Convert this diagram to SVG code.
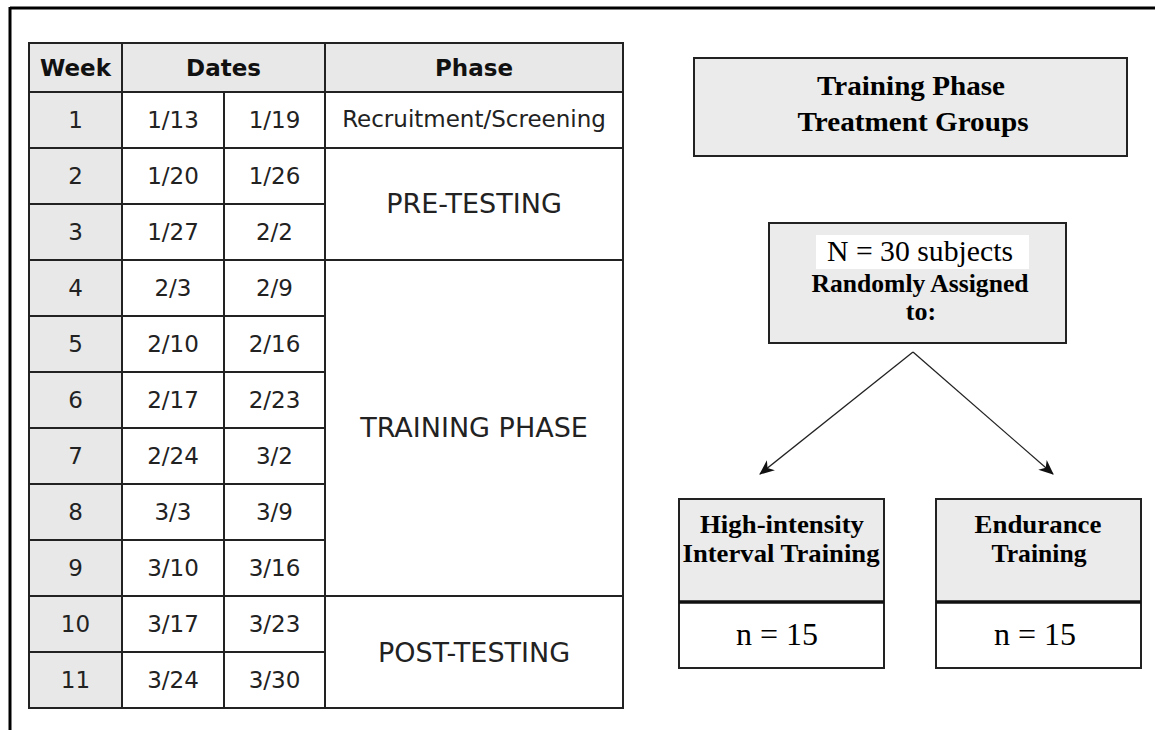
<svg xmlns="http://www.w3.org/2000/svg" width="1155" height="730" viewBox="0 0 1155 730">
<style>
.frame{stroke:#000;stroke-width:3;fill:none}
.grid{stroke:#222;stroke-width:2;fill:none}
.shade{fill:#e8e8e8}
.t{font-family:"DejaVu Sans",Verdana,sans-serif;font-size:23px;fill:#222;text-anchor:middle}
.th{font-family:"DejaVu Sans",Verdana,sans-serif;font-size:23px;font-weight:bold;fill:#111;text-anchor:middle}
.tp{font-family:"DejaVu Sans",Verdana,sans-serif;font-size:27px;fill:#222;text-anchor:middle}
.box{fill:#ebebeb;stroke:#222;stroke-width:2}
.wbox{fill:#fff;stroke:#222;stroke-width:2}
.sb{font-family:"Liberation Serif","Times New Roman",serif;font-weight:bold;fill:#000;text-anchor:middle}
.sr{font-family:"Liberation Serif","Times New Roman",serif;fill:#000;text-anchor:middle}
.conn{stroke:#222;stroke-width:1.3;fill:none}
</style>
<defs>
<marker id="arr" viewBox="0 0 14 14" refX="13" refY="7" markerWidth="15" markerHeight="15" markerUnits="userSpaceOnUse" orient="auto">
<path d="M0,1 L14,7 L0,13 L4,7 Z" fill="#111"/>
</marker>
</defs>
<rect width="1155" height="730" fill="#fff"/>
<g id="frame">
<line class="frame" x1="10" y1="8" x2="1155" y2="8"/>
<line class="frame" x1="10" y1="7" x2="10" y2="730"/>
</g>
<g id="schedule-table">
<rect class="shade" x="29" y="43" width="594" height="49"/>
<rect class="shade" x="29" y="92" width="93" height="616"/>
<rect class="grid" x="29" y="43" width="594" height="665"/>
<line class="grid" x1="29" y1="92" x2="623" y2="92"/>
<line class="grid" x1="122" y1="43" x2="122" y2="708"/>
<line class="grid" x1="224" y1="92" x2="224" y2="708"/>
<line class="grid" x1="325" y1="43" x2="325" y2="708"/>
<path class="grid" d="M29,148H325M29,204H325M29,260H325M29,316H325M29,372H325M29,428H325M29,484H325M29,540H325M29,596H325M29,652H325"/>
<path class="grid" d="M325,148H623M325,260H623M325,596H623"/>
<text class="th" x="75.5" y="76">Week</text>
<text class="th" x="223.5" y="76">Dates</text>
<text class="th" x="474" y="76">Phase</text>
<text class="t" x="75.5" y="128">1</text><text class="t" x="173" y="128">1/13</text><text class="t" x="274.5" y="128">1/19</text>
<text class="t" x="75.5" y="184">2</text><text class="t" x="173" y="184">1/20</text><text class="t" x="274.5" y="184">1/26</text>
<text class="t" x="75.5" y="240">3</text><text class="t" x="173" y="240">1/27</text><text class="t" x="274.5" y="240">2/2</text>
<text class="t" x="75.5" y="296">4</text><text class="t" x="173" y="296">2/3</text><text class="t" x="274.5" y="296">2/9</text>
<text class="t" x="75.5" y="352">5</text><text class="t" x="173" y="352">2/10</text><text class="t" x="274.5" y="352">2/16</text>
<text class="t" x="75.5" y="408">6</text><text class="t" x="173" y="408">2/17</text><text class="t" x="274.5" y="408">2/23</text>
<text class="t" x="75.5" y="464">7</text><text class="t" x="173" y="464">2/24</text><text class="t" x="274.5" y="464">3/2</text>
<text class="t" x="75.5" y="520">8</text><text class="t" x="173" y="520">3/3</text><text class="t" x="274.5" y="520">3/9</text>
<text class="t" x="75.5" y="576">9</text><text class="t" x="173" y="576">3/10</text><text class="t" x="274.5" y="576">3/16</text>
<text class="t" x="75.5" y="632">10</text><text class="t" x="173" y="632">3/17</text><text class="t" x="274.5" y="632">3/23</text>
<text class="t" x="75.5" y="688">11</text><text class="t" x="173" y="688">3/24</text><text class="t" x="274.5" y="688">3/30</text>
<text class="t" x="474" y="127">Recruitment/Screening</text>
<text class="tp" x="474" y="213">PRE-TESTING</text>
<text class="tp" x="474" y="437">TRAINING PHASE</text>
<text class="tp" x="474" y="662">POST-TESTING</text>
</g>
<g id="title-box">
<rect class="box" x="694" y="58" width="433" height="98"/>
<text class="sb" x="911" y="95" font-size="28" textLength="188" lengthAdjust="spacingAndGlyphs">Training Phase</text>
<text class="sb" x="913" y="131" font-size="28" textLength="231" lengthAdjust="spacingAndGlyphs">Treatment Groups</text>
</g>
<g id="random-box">
<rect class="box" x="769" y="223" width="297" height="120"/>
<rect x="816" y="235" width="213" height="34" fill="#fff"/>
<text class="sr" x="920" y="261" font-size="29" textLength="186" lengthAdjust="spacingAndGlyphs">N = 30 subjects</text>
<text class="sb" x="920" y="292" font-size="26" textLength="217" lengthAdjust="spacingAndGlyphs">Randomly Assigned</text>
<text class="sb" x="921" y="320" font-size="26">to:</text>
</g>
<g id="connectors">
<line class="conn" x1="913" y1="352" x2="760" y2="474" marker-end="url(#arr)"/>
<line class="conn" x1="913" y1="352" x2="1053" y2="474" marker-end="url(#arr)"/>
</g>
<g id="hiit-box">
<rect class="box" x="679" y="499" width="205" height="103"/>
<rect class="wbox" x="679" y="602" width="205" height="66"/>
<line x1="679" y1="602" x2="884" y2="602" stroke="#111" stroke-width="3.5"/>
<text class="sb" x="782" y="533" font-size="26" textLength="164" lengthAdjust="spacingAndGlyphs">High-intensity</text>
<text class="sb" x="781" y="562" font-size="26" textLength="197" lengthAdjust="spacingAndGlyphs">Interval Training</text>
<text class="sr" x="777" y="645" font-size="32">n = 15</text>
</g>
<g id="endurance-box">
<rect class="box" x="936" y="499" width="205" height="103"/>
<rect class="wbox" x="936" y="602" width="205" height="66"/>
<line x1="936" y1="602" x2="1141" y2="602" stroke="#111" stroke-width="3.5"/>
<text class="sb" x="1038" y="533" font-size="26" textLength="127" lengthAdjust="spacingAndGlyphs">Endurance</text>
<text class="sb" x="1039" y="562" font-size="26" textLength="95" lengthAdjust="spacingAndGlyphs">Training</text>
<text class="sr" x="1035" y="645" font-size="32">n = 15</text>
</g>
</svg>
